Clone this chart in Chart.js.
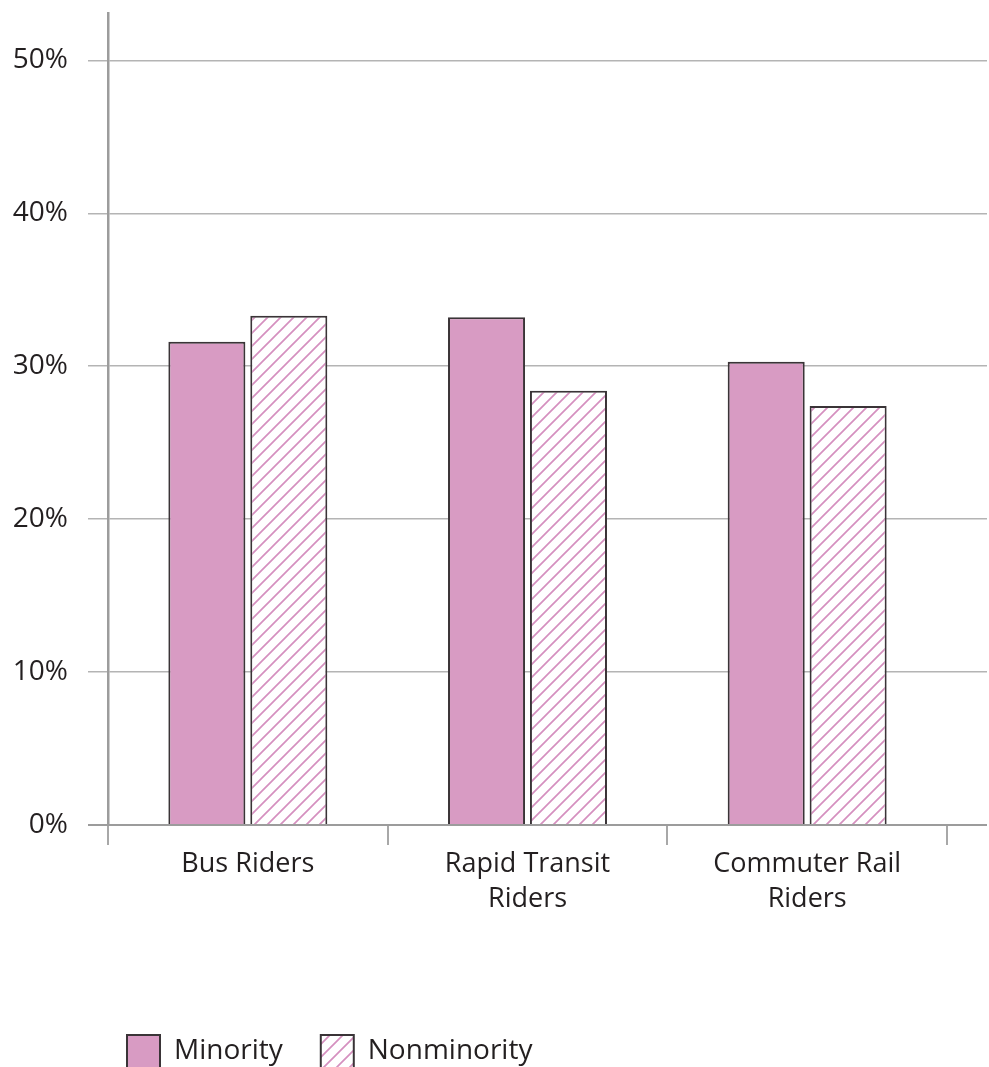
<!DOCTYPE html>
<html>
<head>
<meta charset="utf-8">
<script src="https://cdn.jsdelivr.net/npm/chart.js@4/dist/chart.umd.min.js"></script>
<style>
  html, body { margin: 0; padding: 0; background: #fff; overflow: hidden; }
  #wrap { width: 989px; height: 1078px; }
  canvas { display: block; }
</style>
</head>
<body>
<div id="wrap"><canvas id="chart" width="989" height="1078"></canvas></div>
<script>
// Share of riders, by mode and group (percent)
const categories = ['Bus Riders', ['Rapid Transit', 'Riders'], ['Commuter Rail', 'Riders']];
const seriesNames = ['Minority', 'Nonminority'];
const minority = [31.6, 33.2, 30.3];
const nonminority = [33.3, 28.4, 27.4];
const yTicks = [0, 10, 20, 30, 40, 50];
const yMax = 53.1;

const PINK = '#d89bc3';
const HATCH = '#d590bf';
const EDGE = '#3a3437';
const TEXT = '#231f20';
const FONT = '"Open Sans", "Liberation Sans", sans-serif';
const TICK_SIZE = 27;
const Y_TICK_SIZE = 28;

// diagonal hatch fill for the second series
function hatch(color) {
  const s = 13;
  const c = document.createElement('canvas');
  c.width = s; c.height = s;
  const g = c.getContext('2d');
  g.fillStyle = '#ffffff';
  g.fillRect(0, 0, s, s);
  g.strokeStyle = color;
  g.lineWidth = 1.7;
  g.beginPath();
  g.moveTo(-1, s + 1); g.lineTo(s + 1, -1);
  g.moveTo(-2, 2); g.lineTo(2, -2);
  g.moveTo(s - 2, s + 2); g.lineTo(s + 2, s - 2);
  g.stroke();
  return g.createPattern(c, 'repeat');
}

// widest y label, so the labels can sit right-aligned left of the axis
const probe = document.createElement('canvas').getContext('2d');
probe.font = Y_TICK_SIZE + 'px ' + FONT;
const widestLabel = Math.max(...yTicks.map(v => probe.measureText(v + '%').width));

const keepTicks = (scale) => {
  scale.ticks = yTicks.map(v => ({ value: v }));
};
const gridColor = (ctx) => ctx.tick && ctx.tick.value === 0 ? '#9c9c9c' : '#b4b4b4';
const gridWidth = (ctx) => ctx.tick && ctx.tick.value === 0 ? 2 : 1.5;

new Chart(document.getElementById('chart'), {
  type: 'bar',
  data: {
    labels: categories,
    datasets: [
      {
        label: seriesNames[0],
        data: minority,
        backgroundColor: PINK,
        borderColor: EDGE,
        borderWidth: 2,
        categoryPercentage: 0.586,
        barPercentage: 0.94
      },
      {
        label: seriesNames[1],
        data: nonminority,
        backgroundColor: hatch(HATCH),
        borderColor: EDGE,
        borderWidth: 2,
        categoryPercentage: 0.586,
        barPercentage: 0.94
      }
    ]
  },
  options: {
    responsive: false,
    devicePixelRatio: 1,
    animation: false,
    layout: { padding: { top: 13, right: 2, left: 89, bottom: 0 } },
    plugins: {
      tooltip: { enabled: false },
      legend: {
        position: 'bottom',
        align: 'start',
        labels: {
          boxWidth: 33,
          boxHeight: 33,
          padding: 38,
          color: TEXT,
          font: { family: FONT, size: 28 }
        }
      }
    },
    scales: {
      x: {
        grid: {
          offset: true,
          drawOnChartArea: false,
          drawTicks: true,
          tickLength: 20,
          color: '#a8a8a8',
          lineWidth: 2
        },
        border: { display: true, color: '#9c9c9c', width: 2 },
        ticks: {
          color: TEXT,
          font: { family: FONT, size: TICK_SIZE, lineHeight: 1.3 },
          padding: 2,
          maxRotation: 0,
          autoSkip: false
        },
        afterFit: (s) => { s.height = 172; }
      },
      y: {
        min: 0,
        max: yMax,
        afterBuildTicks: keepTicks,
        grid: { color: gridColor, lineWidth: gridWidth, tickLength: 20 },
        border: { display: true, color: '#9c9c9c', width: 2.5 },
        ticks: {
          color: TEXT,
          font: { family: FONT, size: Y_TICK_SIZE },
          mirror: true,
          crossAlign: 'far',
          padding: -40 - widestLabel,
          callback: (v) => v + '%'
        },
        afterFit: (s) => { s.width = 19; s.paddingTop = 0; s.paddingBottom = 0; }
      },
      y2: {
        position: 'right',
        min: 0,
        max: yMax,
        afterBuildTicks: keepTicks,
        grid: { drawOnChartArea: false, color: gridColor, lineWidth: gridWidth, tickLength: 40 },
        border: { display: false },
        ticks: { display: false }
      }
    }
  }
});
</script>
</body>
</html>
